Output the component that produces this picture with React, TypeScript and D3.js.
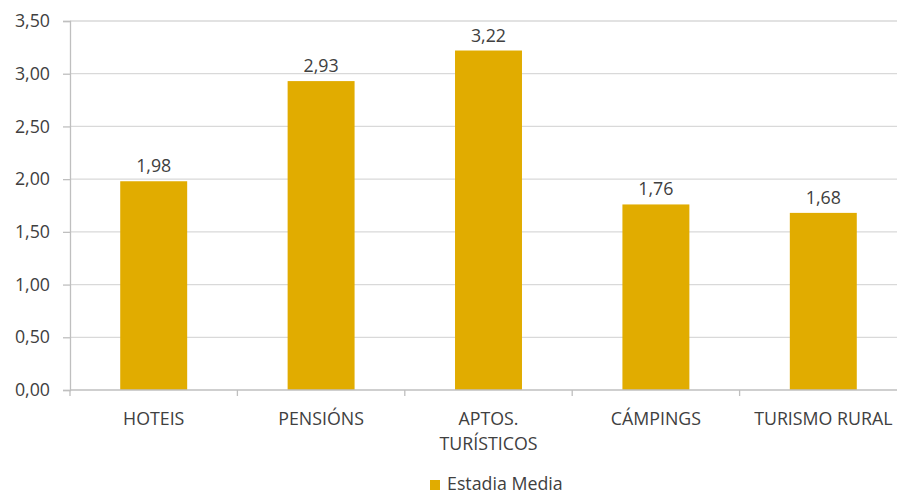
import React, { useEffect, useRef } from "react";
import * as d3 from "d3";

const categories = ["HOTEIS", "PENSIÓNS", "APTOS. TURÍSTICOS", "CÁMPINGS", "TURISMO RURAL"];
const categoryLines = [["HOTEIS"], ["PENSIÓNS"], ["APTOS.", "TURÍSTICOS"], ["CÁMPINGS"], ["TURISMO RURAL"]];
const estadiaMedia = [1.98, 2.93, 3.22, 1.76, 1.68];
const yTicks = [0, 0.5, 1, 1.5, 2, 2.5, 3, 3.5];
const seriesName = "Estadia Media";

const App = () => {
  const ref = useRef<SVGSVGElement>(null);

  useEffect(() => {
    const width = 897;
    const height = 495;
    const margin = { top: 21, right: -10, bottom: 105, left: 70 };
    const font = "'Open Sans', sans-serif";
    const fontSize = 17.8;
    const textColor = "#404040";
    const barColor = "#E1AC00";
    const fmt = (v: number) => d3.format(".2f")(v).replace(".", ",");

    const svg = d3.select(ref.current);
    svg.selectAll("*").remove();

    const x = d3
      .scaleBand()
      .domain(categories)
      .range([margin.left, width - margin.right])
      .paddingInner(0.6)
      .paddingOuter(0.3);

    const y = d3
      .scaleLinear()
      .domain([0, 3.5])
      .range([height - margin.bottom, margin.top]);

    // gridlines
    svg
      .append("g")
      .selectAll("line")
      .data(yTicks.filter((t) => t > 0))
      .join("line")
      .attr("x1", margin.left)
      .attr("x2", width - margin.right)
      .attr("y1", (d) => y(d))
      .attr("y2", (d) => y(d))
      .attr("stroke", "#D9D9D9")
      .attr("stroke-width", 1.3);

    // bars
    svg
      .append("g")
      .selectAll("rect")
      .data(estadiaMedia)
      .join("rect")
      .attr("x", (_, i) => x(categories[i])!)
      .attr("y", (d) => y(d))
      .attr("width", x.bandwidth())
      .attr("height", (d) => y(0) - y(d))
      .attr("fill", barColor);

    // value labels
    svg
      .append("g")
      .selectAll("text")
      .data(estadiaMedia)
      .join("text")
      .attr("x", (_, i) => x(categories[i])! + x.bandwidth() / 2)
      .attr("y", (d) => y(d) - 9)
      .attr("text-anchor", "middle")
      .attr("font-family", font)
      .attr("font-size", fontSize)
      .attr("fill", textColor)
      .text((d) => fmt(d));

    // y axis
    const yAxis = svg
      .append("g")
      .attr("transform", `translate(${margin.left},0)`)
      .call(
        d3
          .axisLeft(y)
          .tickValues(yTicks)
          .tickSize(7)
          .tickPadding(13)
          .tickFormat((d) => fmt(+d))
      );
    yAxis.select(".domain").attr("stroke", "#BFBFBF").attr("stroke-width", 1.3);
    yAxis.selectAll(".tick line").attr("stroke", "#BFBFBF").attr("stroke-width", 1.3);
    yAxis
      .selectAll(".tick text")
      .attr("font-family", font)
      .attr("font-size", fontSize)
      .attr("fill", textColor);

    // x axis
    const step = x.step();
    const xAxis = svg.append("g").attr("transform", `translate(0,${y(0)})`);
    xAxis
      .append("line")
      .attr("x1", margin.left)
      .attr("x2", width - margin.right)
      .attr("stroke", "#BFBFBF")
      .attr("stroke-width", 1.3);
    xAxis
      .selectAll("line.tick")
      .data(d3.range(categories.length + 1))
      .join("line")
      .attr("class", "tick")
      .attr("x1", (i) => margin.left + i * step)
      .attr("x2", (i) => margin.left + i * step)
      .attr("y1", 0)
      .attr("y2", 6)
      .attr("stroke", "#BFBFBF")
      .attr("stroke-width", 1.3);
    const labels = xAxis
      .selectAll("text")
      .data(categoryLines)
      .join("text")
      .attr("x", (_, i) => x(categories[i])! + x.bandwidth() / 2)
      .attr("y", 35)
      .attr("text-anchor", "middle")
      .attr("font-family", font)
      .attr("font-size", fontSize)
      .attr("fill", textColor);
    labels
      .selectAll("tspan")
      .data((d) => d)
      .join("tspan")
      .attr("x", function () {
        return (this.parentNode as SVGTextElement).getAttribute("x");
      })
      .attr("dy", (_, j) => (j === 0 ? 0 : 25))
      .text((d) => d);

    // legend
    const legend = svg.append("g").attr("transform", "translate(430,480)");
    legend.append("rect").attr("width", 10).attr("height", 10).attr("fill", barColor);
    legend
      .append("text")
      .attr("x", 17)
      .attr("y", 10)
      .attr("font-family", font)
      .attr("font-size", fontSize)
      .attr("fill", textColor)
      .text(seriesName);
  }, []);

  return (
    <svg
      ref={ref}
      width={897}
      height={495}
      style={{ position: "absolute", left: 0, top: 0, background: "#fff" }}
    ></svg>
  );
};

export default App;
